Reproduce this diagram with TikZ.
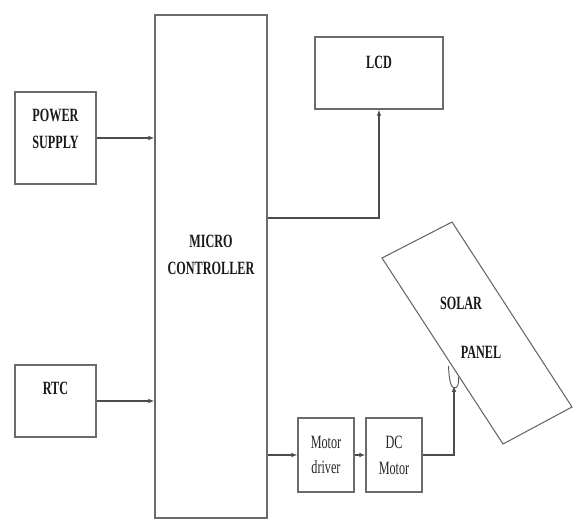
\documentclass[tikz,border=0pt]{standalone}
\usepackage{fontspec}
\newfontfamily\lblfont[FakeStretch=0.65,BoldFont={Liberation Serif Bold},BoldFeatures={FakeStretch=0.65}]{Liberation Serif}
\usetikzlibrary{arrows.meta}
\tikzset{
  blk/.style={draw=black!58,line width=1.2pt,fill=white,inner sep=0pt},
  lbl/.style={font=\lblfont\bfseries\fontsize{16}{23}\selectfont,align=center,text=black!90,inner sep=0pt},
  small/.style={font=\lblfont\fontsize{16}{22}\selectfont,align=center,text=black!85},
  conn/.style={draw=black!70,line width=1pt,-{Latex[length=5pt,width=4pt]}}
}
\begin{document}
\begin{tikzpicture}[x=0.03cm,y=-0.03cm]
  \useasboundingbox (0,0) rectangle (573,520);
  \node[blk,minimum width=2.43cm,minimum height=2.76cm] (ps) at (55.5,138) {};
  \node[blk,minimum width=3.36cm,minimum height=15.09cm] (mc) at (211,266.5) {};
  \node[blk,minimum width=2.43cm,minimum height=2.16cm] (rtc) at (55.5,401) {};
  \node[blk,minimum width=3.84cm,minimum height=2.16cm] (lcd) at (379,73) {};
  \node[blk,small,minimum width=1.68cm,minimum height=2.22cm] (md) at (326,455) {Motor\\driver};
  \node[blk,small,minimum width=1.68cm,minimum height=2.22cm] (dc) at (394,455) {DC\\Motor};
  \node[lbl] at (55.5,129) {POWER\\SUPPLY};
  \node[lbl] at (211,255) {MICRO\\CONTROLLER};
  \node[lbl] at (55.5,388) {RTC};
  \node[lbl] at (379,62) {LCD};
  % tilted panel
  \coordinate (p1) at (382,258);
  \coordinate (p2) at (452,222);
  \coordinate (p3) at (572,407);
  \coordinate (p4) at (503,444);
  \draw[black!60,line width=0.9pt] (p1) -- (p2) -- (p3) -- (p4) -- cycle;
  \node[lbl] at (461,303) {SOLAR};
  \node[lbl] at (481,352) {PANEL};
  \coordinate (pivot) at (454,386);
  \draw[black!65,line width=0.8pt] (448.5,366) .. controls (449,380) and (451,388) .. (454.5,388)
    .. controls (458,388) and (459,383) .. (458.5,377);
  \draw[conn] (ps.east) -- (ps.east -| mc.west);
  \draw[conn] (rtc.east) -- (rtc.east -| mc.west);
  \draw[conn] ([yshift=1.455cm]mc.east) -| (lcd.south);
  \draw[conn] (mc.east |- md.west) -- (md.west);
  \draw[conn] (md.east) -- (dc.west);
  \draw[conn] (dc.east) -| (pivot);
\end{tikzpicture}
\end{document}
